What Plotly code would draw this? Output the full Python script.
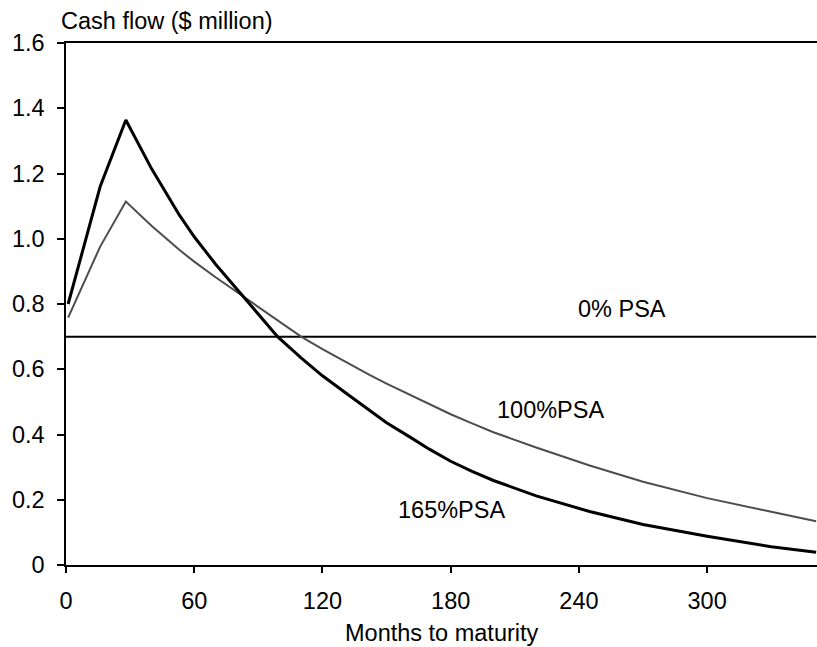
import plotly.graph_objects as go

# Months to maturity at which the curves were read
months = [1, 16, 28, 40, 53, 60, 70, 83, 90, 99, 110, 120, 133, 142, 150, 161,
          170, 180, 190, 200, 220, 245, 270, 300, 330, 351]

# Cash flow ($ million)
psa_165 = [0.80, 1.16, 1.364, 1.215, 1.073, 1.006, 0.922, 0.823, 0.767, 0.70,
           0.635, 0.58, 0.517, 0.473, 0.436, 0.392, 0.355, 0.318, 0.287, 0.259,
           0.212, 0.164, 0.124, 0.088, 0.056, 0.039]
psa_100 = [0.758, 0.976, 1.114, 1.04, 0.966, 0.93, 0.882, 0.823, 0.79, 0.749,
           0.70, 0.662, 0.614, 0.583, 0.556, 0.522, 0.494, 0.462, 0.434, 0.407,
           0.36, 0.305, 0.255, 0.205, 0.163, 0.134]
flat_months = [0, 351]
psa_0 = [0.70, 0.70]

y_ticks = [0, 0.2, 0.4, 0.6, 0.8, 1.0, 1.2, 1.4, 1.6]
y_labels = ["0", "0.2", "0.4", "0.6", "0.8", "1.0", "1.2", "1.4", "1.6"]
x_ticks = [0, 60, 120, 180, 240, 300]

font = "Liberation Sans, Arial, Helvetica, sans-serif"

fig = go.Figure()
fig.add_trace(go.Scatter(x=flat_months, y=psa_0, mode="lines",
                         line=dict(color="black", width=2), name="0% PSA"))
fig.add_trace(go.Scatter(x=months, y=psa_100, mode="lines",
                         line=dict(color="#4d4d4d", width=2), name="100%PSA"))
fig.add_trace(go.Scatter(x=months, y=psa_165, mode="lines",
                         line=dict(color="black", width=3), name="165%PSA"))

fig.update_layout(
    width=817, height=647,
    margin=dict(l=66, r=0, t=43, b=82),
    plot_bgcolor="white", paper_bgcolor="white",
    showlegend=False,
    font=dict(family=font, size=23.5, color="black"),
    annotations=[
        dict(text="Cash flow ($ million)", xref="paper", yref="paper",
             x=-0.0093, y=1.042, xanchor="left", yanchor="middle", showarrow=False),
        dict(text="Months to maturity", xref="paper", yref="paper",
             x=0.5, y=-0.13, xanchor="center", yanchor="middle", showarrow=False),
        dict(text="0% PSA", x=260, y=0.785, showarrow=False),
        dict(text="100%PSA", x=226.8, y=0.476, showarrow=False),
        dict(text="165%PSA", x=180.5, y=0.17, showarrow=False),
    ],
)

fig.update_xaxes(range=[0, 351.4], tickvals=x_ticks, ticks="outside", ticklen=6,
                 tickwidth=1.5, tickcolor="black", showline=True, linewidth=1.5,
                 linecolor="black", mirror=True, showgrid=False, zeroline=False,
                 ticklabelstandoff=8, automargin=False)
fig.update_yaxes(range=[0, 1.6], tickvals=y_ticks, ticktext=y_labels, ticks="outside",
                 ticklen=7, tickwidth=1.5, tickcolor="black", showline=True,
                 linewidth=1.5, linecolor="black", showgrid=False, zeroline=False,
                 ticklabelstandoff=8, automargin=False)

# drop the default page margin and scrollbars so the figure fills the window
page_js = ("document.body.style.margin='0';"
           "document.body.style.overflow='hidden';"
           "document.documentElement.style.overflow='hidden';")
fig.write_html("out.html", post_script=page_js, config={"displayModeBar": False})
